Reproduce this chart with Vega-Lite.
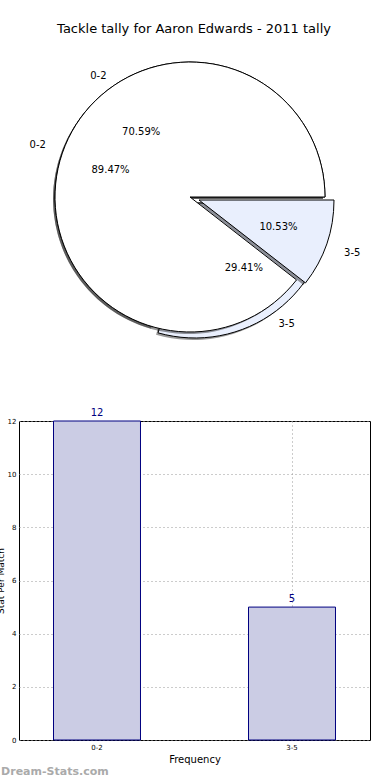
{
  "$schema": "https://vega.github.io/schema/vega-lite/v6.json",
  "padding": {"left": -5, "top": 23, "right": 0, "bottom": 0},
  "bounds": "flush",
  "spacing": 74,
  "config": {"font": "DejaVu Sans", "view": {"stroke": null}},
  "title": {"text": "Tackle tally for Aaron Edwards - 2011 tally", "fontSize": 13, "fontWeight": "normal", "anchor": "middle", "frame": "bounds", "offset": 11, "dx": 11, "color": "#000"},
  "datasets": {
    "pies": [
      {"pie": "A", "label": "0-2", "count": 17, "pct": "89.47%"},
      {"pie": "A", "label": "3-5", "count": 2, "pct": "10.53%"},
      {"pie": "B", "label": "0-2", "count": 12, "pct": "70.59%"},
      {"pie": "B", "label": "3-5", "count": 5, "pct": "29.41%"}
    ],
    "bars": [
      {"bin": "0-2", "count": 12},
      {"bin": "3-5", "count": 5}
    ]
  },
  "vconcat": [
    {
      "width": 342,
      "height": 300,
      "data": {"name": "pies"},
      "transform": [
        {"stack": "count", "groupby": ["pie"], "offset": "normalize", "sort": [{"field": "label", "order": "descending"}], "as": ["t0", "t1"]}
      ],
      "layer": [
        {"transform": [{"filter": "datum.pie === 'B' && datum.label === '0-2'"}],
         "mark": {"type": "arc", "radius": 135, "fill": "#000", "opacity": 0.4, "xOffset": -2, "yOffset": 2},
         "encoding": {"theta": {"field": "t0", "type": "quantitative", "scale": {"domain": [0, 1], "range": [1.5708, 7.854]}}, "theta2": {"field": "t1"}}},
        {"transform": [{"filter": "datum.pie === 'B' && datum.label === '3-5'"}],
         "mark": {"type": "arc", "radius": 135, "fill": "#000", "opacity": 0.4, "xOffset": 3, "yOffset": 8},
         "encoding": {"theta": {"field": "t0", "type": "quantitative", "scale": {"domain": [0, 1], "range": [1.5708, 7.854]}}, "theta2": {"field": "t1"}}},
        {"transform": [{"filter": "datum.pie === 'B' && datum.label === '0-2'"}],
         "mark": {"type": "arc", "radius": 135, "fill": "#ffffff", "stroke": "#000", "strokeWidth": 1},
         "encoding": {"theta": {"field": "t0", "type": "quantitative", "scale": {"domain": [0, 1], "range": [1.5708, 7.854]}}, "theta2": {"field": "t1"}}},
        {"transform": [{"filter": "datum.pie === 'B' && datum.label === '3-5'"}],
         "mark": {"type": "arc", "radius": 135, "fill": "#e9effd", "stroke": "#000", "strokeWidth": 1, "xOffset": 5, "yOffset": 6},
         "encoding": {"theta": {"field": "t0", "type": "quantitative", "scale": {"domain": [0, 1], "range": [1.5708, 7.854]}}, "theta2": {"field": "t1"}}},
        {"transform": [{"filter": "datum.pie === 'A' && datum.label === '0-2'"}],
         "mark": {"type": "arc", "radius": 135, "fill": "#000", "opacity": 0.4, "xOffset": -2, "yOffset": 2},
         "encoding": {"theta": {"field": "t0", "type": "quantitative", "scale": {"domain": [0, 1], "range": [1.5708, 7.854]}}, "theta2": {"field": "t1"}}},
        {"transform": [{"filter": "datum.pie === 'A' && datum.label === '3-5'"}],
         "mark": {"type": "arc", "radius": 135, "fill": "#000", "opacity": 0.4, "xOffset": 7, "yOffset": 5},
         "encoding": {"theta": {"field": "t0", "type": "quantitative", "scale": {"domain": [0, 1], "range": [1.5708, 7.854]}}, "theta2": {"field": "t1"}}},
        {"transform": [{"filter": "datum.pie === 'A' && datum.label === '0-2'"}],
         "mark": {"type": "arc", "radius": 135, "fill": "#ffffff", "stroke": "#000", "strokeWidth": 1},
         "encoding": {"theta": {"field": "t0", "type": "quantitative", "scale": {"domain": [0, 1], "range": [1.5708, 7.854]}}, "theta2": {"field": "t1"}}},
        {"transform": [{"filter": "datum.pie === 'A' && datum.label === '3-5'"}],
         "mark": {"type": "arc", "radius": 135, "fill": "#e9effd", "stroke": "#000", "strokeWidth": 1, "xOffset": 9, "yOffset": 3},
         "encoding": {"theta": {"field": "t0", "type": "quantitative", "scale": {"domain": [0, 1], "range": [1.5708, 7.854]}}, "theta2": {"field": "t1"}}},

        {"transform": [{"filter": "datum.pie === 'A'"}],
         "mark": {"type": "text", "radius": 84, "fontSize": 10, "color": "#000"},
         "encoding": {"theta": {"field": "count", "type": "quantitative", "stack": "normalize", "scale": {"domain": [0, 1], "range": [1.5708, 7.854]}},
                      "order": {"field": "label", "sort": "descending"},
                      "text": {"condition": {"test": "datum.label === '0-2'", "field": "pct"}, "value": ""}}},
        {"transform": [{"filter": "datum.pie === 'A'"}],
         "mark": {"type": "text", "radius": 84, "fontSize": 10, "color": "#000", "xOffset": 9, "yOffset": 3},
         "encoding": {"theta": {"field": "count", "type": "quantitative", "stack": "normalize", "scale": {"domain": [0, 1], "range": [1.5708, 7.854]}},
                      "order": {"field": "label", "sort": "descending"},
                      "text": {"condition": {"test": "datum.label === '3-5'", "field": "pct"}, "value": ""}}},
        {"transform": [{"filter": "datum.pie === 'A'"}],
         "mark": {"type": "text", "radius": 161, "fontSize": 10, "color": "#000"},
         "encoding": {"theta": {"field": "count", "type": "quantitative", "stack": "normalize", "scale": {"domain": [0, 1], "range": [1.5708, 7.854]}},
                      "order": {"field": "label", "sort": "descending"},
                      "text": {"condition": {"test": "datum.label === '0-2'", "field": "label"}, "value": ""}}},
        {"transform": [{"filter": "datum.pie === 'A'"}],
         "mark": {"type": "text", "radius": 162, "fontSize": 10, "color": "#000", "xOffset": 9, "yOffset": 3},
         "encoding": {"theta": {"field": "count", "type": "quantitative", "stack": "normalize", "scale": {"domain": [0, 1], "range": [1.5708, 7.854]}},
                      "order": {"field": "label", "sort": "descending"},
                      "text": {"condition": {"test": "datum.label === '3-5'", "field": "label"}, "value": ""}}},
        {"transform": [{"filter": "datum.pie === 'B'"}],
         "mark": {"type": "text", "radius": 81, "fontSize": 10, "color": "#000"},
         "encoding": {"theta": {"field": "count", "type": "quantitative", "stack": "normalize", "scale": {"domain": [0, 1], "range": [1.5708, 7.854]}},
                      "order": {"field": "label", "sort": "descending"},
                      "text": {"condition": {"test": "datum.label === '0-2'", "field": "pct"}, "value": ""}}},
        {"transform": [{"filter": "datum.pie === 'B'"}],
         "mark": {"type": "text", "radius": 81, "fontSize": 10, "color": "#000", "xOffset": 5, "yOffset": 6},
         "encoding": {"theta": {"field": "count", "type": "quantitative", "stack": "normalize", "scale": {"domain": [0, 1], "range": [1.5708, 7.854]}},
                      "order": {"field": "label", "sort": "descending"},
                      "text": {"condition": {"test": "datum.label === '3-5'", "field": "pct"}, "value": ""}}},
        {"transform": [{"filter": "datum.pie === 'B'"}],
         "mark": {"type": "text", "radius": 152, "fontSize": 10, "color": "#000"},
         "encoding": {"theta": {"field": "count", "type": "quantitative", "stack": "normalize", "scale": {"domain": [0, 1], "range": [1.5708, 7.854]}},
                      "order": {"field": "label", "sort": "descending"},
                      "text": {"condition": {"test": "datum.label === '0-2'", "field": "label"}, "value": ""}}},
        {"transform": [{"filter": "datum.pie === 'B'"}],
         "mark": {"type": "text", "radius": 152, "fontSize": 10, "color": "#000", "xOffset": 5, "yOffset": 6},
         "encoding": {"theta": {"field": "count", "type": "quantitative", "stack": "normalize", "scale": {"domain": [0, 1], "range": [1.5708, 7.854]}},
                      "order": {"field": "label", "sort": "descending"},
                      "text": {"condition": {"test": "datum.label === '3-5'", "field": "label"}, "value": ""}}}
      ]
    },
    {
      "width": 351,
      "height": 319,
      "data": {"name": "bars"},
      "view": {"stroke": "#000", "strokeWidth": 1},
      "title": {"text": "Dream-Stats.com", "orient": "bottom", "anchor": "start", "frame": "bounds", "fontSize": 11, "fontWeight": "bold", "color": "#aaaaaa", "offset": 2, "dx": 5},
      "encoding": {
        "x": {"field": "bin", "type": "nominal", "sort": null,
              "scale": {"paddingInner": 0.554, "paddingOuter": 0.177},
              "axis": {"title": "Frequency", "titleFontSize": 10, "titleFontWeight": "normal", "titlePadding": 4, "labelFontSize": 7, "labelAngle": 0, "labelPadding": 3, "ticks": false, "domain": false,
                       "grid": true, "bandPosition": 0.5, "gridDash": [1, 3], "gridColor": "#999999", "gridWidth": 1}},
        "y": {"field": "count", "type": "quantitative", "scale": {"domain": [0, 12], "nice": false},
              "axis": {"title": "Stat Per Match", "titleFontSize": 9, "titleFontWeight": "normal", "titlePadding": 2, "values": [0, 2, 4, 6, 8, 10, 12], "labelFontSize": 7, "labelPadding": 3, "ticks": false, "domain": false,
                       "grid": true, "gridDash": [1, 3], "gridColor": "#999999", "gridWidth": 1}}
      },
      "layer": [
        {"mark": {"type": "bar", "fill": "#cbcce4", "stroke": "#000080", "strokeWidth": 1}},
        {"mark": {"type": "text", "baseline": "bottom", "dy": -3, "fontSize": 10, "color": "#000080"},
         "encoding": {"text": {"field": "count", "type": "quantitative"}}}
      ]
    }
  ]
}
